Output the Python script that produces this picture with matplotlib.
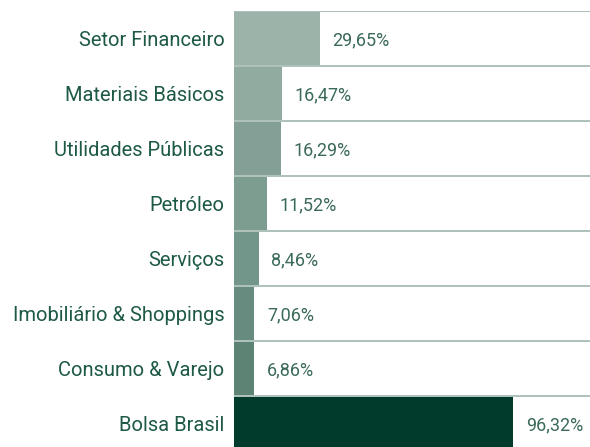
import matplotlib.pyplot as plt

setores = ["Setor Financeiro", "Materiais Básicos", "Utilidades Públicas", "Petróleo",
           "Serviços", "Imobiliário & Shoppings", "Consumo & Varejo", "Bolsa Brasil"]
retornos = [29.65, 16.47, 16.29, 11.52, 8.46, 7.06, 6.86, 96.32]
cores = ["#9cb3aa", "#91aba1", "#849f95", "#7e9d91", "#72968a", "#678b7f", "#5d8375", "#013b2b"]

plt.rcParams['font.family'] = ['Roboto', 'DejaVu Sans']

fig = plt.figure(figsize=(5.9, 4.47), dpi=100)
ax = fig.add_axes([234 / 590, -4 / 447, 356 / 590, 440 / 447])

y = range(len(setores))
ax.barh(y, retornos, height=0.96, color=cores, zorder=2)

# linhas separando as faixas
for i in range(len(setores)):
    ax.axhline(i - 0.5, color="#a7bbb4", linewidth=1.3, zorder=3)

for i, v in enumerate(retornos):
    ax.annotate(f"{v:.2f}%".replace(".", ","), (v, i + 0.04), xytext=(9, 0),
                textcoords="offset points", va="center", ha="left",
                fontsize=13, color="#3b6a5a")

ax.set_xlim(0, 122.7)
ax.set_ylim(len(setores) - 0.5, -0.5)
ax.set_yticks(list(y))
ax.set_yticklabels(setores, fontsize=14.5, color="#1d5944")
ax.tick_params(axis="y", length=0, pad=7)
ax.set_xticks([])
for s in ax.spines.values():
    s.set_visible(False)

fig.savefig("out.png", dpi=100)
